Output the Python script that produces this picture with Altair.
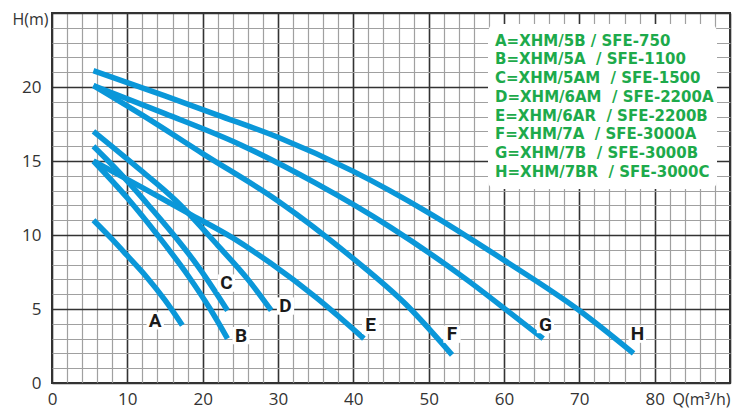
import altair as alt
import pandas as pd

# ---- data ----
curve_names = ["A", "B", "C", "D", "E", "F", "G", "H"]

q_A = [5.5, 8, 10, 12.5, 15, 17.3]
h_A = [11, 9.7, 8.6, 7.2, 5.6, 3.9]
q_B = [5.5, 10, 14, 18, 21, 23.3]
h_B = [15, 12.5, 10, 7.3, 5, 3]
q_C = [5.5, 9, 12.5, 16, 19.5, 23.3]
h_C = [16, 14.2, 12.2, 10.1, 7.8, 4.9]
q_D = [5.5, 11, 16.5, 22, 26, 29.1]
h_D = [17, 14.7, 12.3, 9.3, 7.0, 4.9]
q_E = [5.5, 12, 18, 24, 29, 35, 41.4]
h_E = [15, 13.2, 11.5, 9.8, 8.1, 5.8, 3]
q_F = [5.5, 12, 20, 30, 40, 47, 53.1]
h_F = [20.1, 18.1, 15.5, 12.3, 8.4, 5.3, 1.9]
q_G = [5.5, 15, 25, 35, 45, 55, 60.9, 65.2]
h_G = [20.1, 18.2, 16.1, 13.5, 10.5, 7.0, 4.7, 3.0]
q_H = [5.5, 15, 22, 30, 40, 50, 60, 70, 77.2]
h_H = [21.1, 19.4, 18.1, 16.6, 14.3, 11.5, 8.3, 4.9, 2.0]

label_q = [13.7, 25.1, 23.15, 31.0, 42.3, 53.1, 65.5, 77.7]
label_h = [4.2, 3.2, 6.75, 5.2, 3.9, 3.3, 3.95, 3.3]

legend_lines = [
    "A=XHM/5B / SFE-750",
    "B=XHM/5A  / SFE-1100",
    "C=XHM/5AM  / SFE-1500",
    "D=XHM/6AM  / SFE-2200A",
    "E=XHM/6AR  / SFE-2200B",
    "F=XHM/7A  / SFE-3000A",
    "G=XHM/7B  / SFE-3000B",
    "H=XHM/7BR  / SFE-3000C",
]

x_ticks = list(range(0, 91, 2))
y_ticks = list(range(0, 26, 1))

# ---- tables ----
series = {"A": (q_A, h_A), "B": (q_B, h_B), "C": (q_C, h_C), "D": (q_D, h_D),
          "E": (q_E, h_E), "F": (q_F, h_F), "G": (q_G, h_G), "H": (q_H, h_H)}
rows = []
for name in curve_names:
    qs, hs = series[name]
    for i, (q, h) in enumerate(zip(qs, hs)):
        rows.append({"curve": name, "q": q, "h": h, "i": i})
lines_df = pd.DataFrame(rows)
labels_df = pd.DataFrame({"curve": curve_names, "q": label_q, "h": label_h})
legend_df = pd.DataFrame({"text": [s.replace("  ", "\u00a0\u00a0") for s in legend_lines],
                          "row": list(range(len(legend_lines)))})
one_df = pd.DataFrame({"k": [0]})

W, H = 678, 370
axis_font = "Open Sans"
major_x = "datum.value % 10 === 0"
major_y = "datum.value % 5 === 0"

xscale = alt.Scale(domain=[0, 90], nice=False, zero=False)
yscale = alt.Scale(domain=[0, 25], nice=False, zero=False)

x_axis = alt.Axis(
    values=x_ticks, tickCount=500, format="d",
    labelExpr="datum.value % 10 === 0 && datum.value < 90 ? datum.label : ''",
    grid=True,
    gridColor={"condition": {"test": major_x, "value": "#333333"}, "value": "#a0a0a0"},
    gridWidth={"condition": {"test": major_x, "value": 1.6}, "value": 1.2},
    gridOpacity=1,
    ticks=False, domain=False,
    labelFont=axis_font, labelFontSize=17, labelColor="#333333",
    labelPadding=8, labelFlush=False, labelOverlap=False, labelBound=False,
    title="Q(m³/h)", titleX=W, titleY=21, titleAlign="right",
    titleBaseline="alphabetic", titleFont=axis_font, titleFontSize=16,
    titleFontWeight="normal", titleColor="#333333",
)
y_axis = alt.Axis(
    values=y_ticks, tickCount=500, format="d",
    labelExpr="datum.value % 5 === 0 && datum.value < 25 ? datum.label : ''",
    grid=True,
    gridColor={"condition": {"test": major_y, "value": "#333333"}, "value": "#a0a0a0"},
    gridWidth={"condition": {"test": major_y, "value": 1.6}, "value": 1.2},
    gridOpacity=1,
    ticks=False, domain=False,
    labelFont=axis_font, labelFontSize=17, labelColor="#333333",
    labelPadding=11, labelFlush=False, labelOverlap=False, labelBound=False,
    title="H(m)", titleAngle=0, titleX=-4, titleY=6, titleAlign="right",
    titleBaseline="middle", titleFont=axis_font, titleFontSize=16,
    titleFontWeight="normal", titleColor="#333333",
)

curves = alt.Chart(lines_df).mark_line(
    color="#0A97D9", strokeWidth=5.5, interpolate="monotone", strokeCap="butt"
).encode(
    x=alt.X("q:Q", scale=xscale, axis=x_axis),
    y=alt.Y("h:Q", scale=yscale, axis=y_axis),
    detail="curve:N",
    order="i:O",
)

legend_box = alt.Chart(one_df).mark_rect(fill="white", cornerRadius=8).encode(
    x=alt.value(436), x2=alt.value(665), y=alt.value(11), y2=alt.value(176)
)

legend_text = alt.Chart(legend_df).transform_calculate(
    py="27.7 + datum.row * 18.7"
).mark_text(
    align="left", baseline="middle", font="DejaVu Sans", fontWeight="bold",
    fontSize=15, color="#1DAA4B"
).encode(
    x=alt.value(443),
    y=alt.Y("py:Q", scale=None),
    text="text:N",
)

label_bg = alt.Chart(labels_df).mark_square(
    color="white", opacity=1, size=300, filled=True
).encode(x=alt.X("q:Q", scale=xscale, axis=x_axis), y=alt.Y("h:Q", scale=yscale, axis=y_axis))

label_text = alt.Chart(labels_df).mark_text(
    font="Roboto", fontWeight="bold", fontSize=19, color="#1a1a1a",
    align="center", baseline="middle"
).encode(x=alt.X("q:Q", scale=xscale, axis=x_axis), y=alt.Y("h:Q", scale=yscale, axis=y_axis),
         text="curve:N")

chart = alt.layer(legend_box, curves, legend_text, label_bg, label_text).properties(
    width=W, height=H,
    autosize=alt.AutoSizeParams(type="none"),
    padding={"left": 44, "top": 5, "right": 9, "bottom": 25},
    background="white",
).configure_view(stroke="#333333", strokeWidth=2)

chart.save("out.html", embed_options={"renderer": "svg", "actions": False})
